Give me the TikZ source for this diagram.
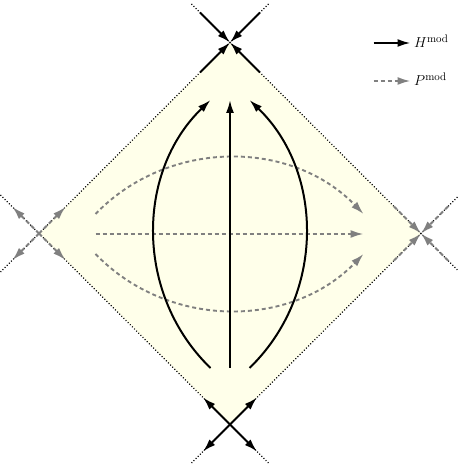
\documentclass[tikz,border=0pt]{standalone}
\usetikzlibrary{arrows.meta}
\definecolor{diamondfill}{RGB}{255,255,234}
\definecolor{flowgray}{RGB}{128,128,128}
\tikzset{
  hflow/.style={line width=2pt, black, -{Latex[length=13pt,width=8pt]}},
  pflow/.style={line width=1.9pt, flowgray, dash pattern=on 4pt off 3pt, -{Latex[length=13pt,width=8pt]}},
  border/.style={line width=1.1pt, dash pattern=on 1pt off 2pt, black},
  lab/.style={anchor=west, inner sep=0pt, font=\fontsize{15.5}{18}\selectfont}
}
\begin{document}
\begin{tikzpicture}[x=1pt,y=1pt]
\useasboundingbox (0,0) rectangle (457,465);
% vertices
\coordinate (T) at (230,422.5);
\coordinate (B) at (230,40.5);
\coordinate (L) at (39,231.5);
\coordinate (R) at (421,231.5);
% fill
\fill[diamondfill] (T) -- (R) -- (B) -- (L) -- cycle;
% extended dotted edges
\coordinate (e1a) at (0.5,193);   \coordinate (e1b) at (268.5,461);
\coordinate (e2a) at (191.5,461); \coordinate (e2b) at (457.5,195);
\coordinate (e3a) at (0.5,270);   \coordinate (e3b) at (268.5,2);
\coordinate (e4a) at (191.5,2);   \coordinate (e4b) at (457.5,268);
\draw[border] (e1a) -- (e1b);
\draw[border] (e2a) -- (e2b);
\draw[border] (e3a) -- (e3b);
\draw[border] (e4a) -- (e4b);
% top vertex: converging black arrows
\coordinate (t1) at (200,452.5);
\coordinate (t2) at (260,452.5);
\coordinate (t3) at (200,392.5);
\coordinate (t4) at (260,392.5);
\draw[hflow] (t1) -- (T);
\draw[hflow] (t2) -- (T);
\draw[hflow] (t3) -- (T);
\draw[hflow] (t4) -- (T);
% bottom vertex: diverging black arrows
\coordinate (b1) at (203,67.5);
\coordinate (b2) at (257,67.5);
\coordinate (b3) at (203,13.5);
\coordinate (b4) at (257,13.5);
\draw[hflow] (B) -- (b1);
\draw[hflow] (B) -- (b2);
\draw[hflow] (B) -- (b3);
\draw[hflow] (B) -- (b4);
% left vertex: diverging gray arrows
\coordinate (l1) at (12.5,258);
\coordinate (l2) at (65.5,258);
\coordinate (l3) at (12.5,205);
\coordinate (l4) at (65.5,205);
\draw[pflow] (L) -- (l1);
\draw[pflow] (L) -- (l2);
\draw[pflow] (L) -- (l3);
\draw[pflow] (L) -- (l4);
% right vertex: converging gray arrows
\coordinate (r1) at (394,258.5);
\coordinate (r2) at (448,258.5);
\coordinate (r3) at (394,204.5);
\coordinate (r4) at (448,204.5);
\draw[pflow] (r1) -- (R);
\draw[pflow] (r2) -- (R);
\draw[pflow] (r3) -- (R);
\draw[pflow] (r4) -- (R);
% inner P flow (gray dashed)
\coordinate (p1s) at (95.5,251);  \coordinate (p1e) at (363.5,251);
\coordinate (p2s) at (95.5,231);  \coordinate (p2e) at (363.5,231);
\coordinate (p3s) at (95.5,211);  \coordinate (p3e) at (363.5,211);
\draw[pflow] (p1s) to[bend left=46] (p1e);
\draw[pflow] (p2s) -- (p2e);
\draw[pflow] (p3s) to[bend right=46] (p3e);
% inner H flow (black)
\coordinate (h1s) at (210.5,97);   \coordinate (h1e) at (210.5,365);
\coordinate (h2s) at (230,97);     \coordinate (h2e) at (230,365);
\coordinate (h3s) at (249.5,97);   \coordinate (h3e) at (249.5,365);
\draw[hflow] (h1s) to[bend left=46] (h1e);
\draw[hflow] (h2s) -- (h2e);
\draw[hflow] (h3s) to[bend right=46] (h3e);
% legend
\coordinate (g1s) at (373.5,422); \coordinate (g1e) at (410.5,422);
\coordinate (g2s) at (373.5,384); \coordinate (g2e) at (410.5,384);
\draw[hflow] (g1s) -- (g1e);
\draw[pflow] (g2s) -- (g2e);
\node[lab] (hl) at (414,424) {$H^{\mathrm{mod}}$};
\node[lab] (pl) at (414,386) {$P^{\mathrm{mod}}$};
\end{tikzpicture}
\end{document}
